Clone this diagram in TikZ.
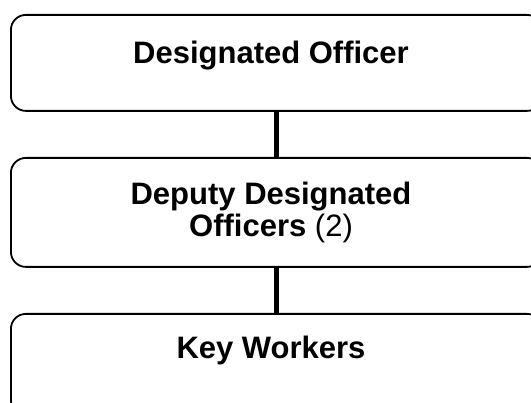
\documentclass[tikz,border=0pt]{standalone}
\usepackage{fontspec}
\setmainfont{Liberation Sans}
\begin{document}
\begin{tikzpicture}[x=1pt,y=-1pt,
  box/.style={draw, line width=1.8pt, rounded corners=15pt, anchor=north west, minimum width=531pt, inner sep=0pt},
  lbl/.style={font=\fontsize{31}{32}\selectfont\bfseries, anchor=base, inner sep=0pt, align=center},
  link/.style={line width=4.8pt}]
\useasboundingbox (0,0) rectangle (531,403);
\node[box, minimum height=96pt] (b1) at (10,14) {};
\node[box, minimum height=109pt] (b2) at (10,157) {};
\node[box, minimum height=101pt] (b3) at (10,313) {};
\node[lbl] (t1) at (271,64) {Designated Officer};
\node[lbl] (t2) at (271,237) {Deputy Designated\\Officers \mdseries(2)};
\node[lbl] (t3) at (271,359) {Key Workers};
\draw[link] (b1.south) -- (b2.north);
\draw[link] (b2.south) -- (b3.north);
\end{tikzpicture}
\end{document}
